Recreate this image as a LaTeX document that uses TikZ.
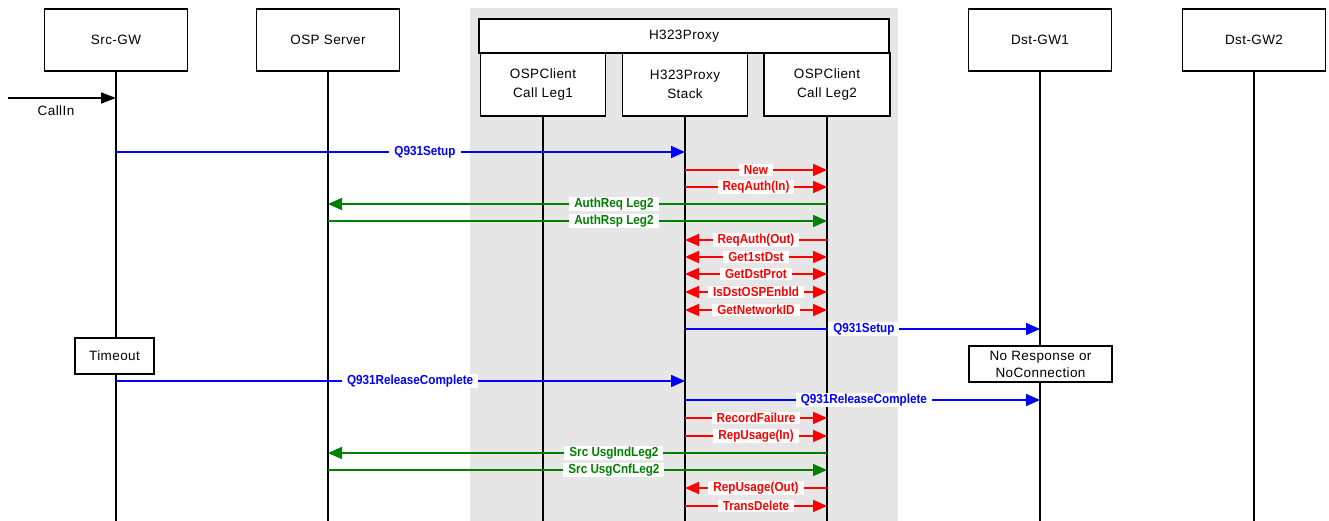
\documentclass[tikz,border=0pt]{standalone}
\usepackage{fontspec}
\setmainfont{Liberation Sans}
\newfontfamily\boxfont[LetterSpace=3]{Liberation Sans}
\usetikzlibrary{arrows.meta}
\definecolor{msgblue}{RGB}{0,0,255}
\definecolor{msgred}{RGB}{255,0,0}
\definecolor{msggreen}{RGB}{0,128,0}
\definecolor{proxybg}{RGB}{230,230,230}
\tikzset{
  entity/.style={draw=black, line width=1.1pt, fill=white, inner sep=0pt, align=center,
    font=\boxfont\fontsize{13.5}{19}\selectfont},
  lifeline/.style={draw=black, line width=1.3pt},
  tip/.style={-{Triangle[length=14pt,width=12pt]}},
  dtip/.style={{Triangle[length=14pt,width=12pt]}-{Triangle[length=14pt,width=12pt]}},
  blue msg/.style={draw=msgblue, line width=1.7pt, text=msgblue},
  red msg/.style={draw=msgred, line width=1.7pt, text=msgred},
  green msg/.style={draw=msggreen, line width=1.7pt, text=msggreen},
  lbl/.style={fill=white, inner xsep=5pt, inner ysep=1pt,
    font=\bfseries\fontsize{11.7}{12}\selectfont}
}
% #1 style, #2 from lifeline, #3 to lifeline, #4 y, #5 text, #6 label position
\newcommand\seqmsg[6]{%
  \draw[#1] (#2 |- 0,#4) -- node[lbl,pos=#6]{\scalebox{1}[1.12]{#5}} (#3 |- 0,#4);}
\begin{document}
\begin{tikzpicture}[x=1pt,y=-1pt]
\useasboundingbox (0,0) rectangle (1329,521);
% proxy background
\fill[proxybg] (470,8) rectangle (898,521);

% participants
\node[entity, minimum width=143pt, minimum height=62pt] (src)  at (116,40) {Src-GW};
\node[entity, minimum width=143pt, minimum height=62pt] (osp)  at (328,40) {OSP Server};
\node[entity, minimum width=410pt, minimum height=34pt] (proxy) at (684,36) {H323Proxy};
\node[entity, minimum width=125pt, minimum height=63pt] (leg1)  at (543,84.5) {OSPClient\\Call Leg1};
\node[entity, minimum width=125pt, minimum height=63pt] (stack) at (685,84.5) {H323Proxy\\Stack};
\node[entity, minimum width=126pt, minimum height=63pt] (leg2)  at (827,84.5) {OSPClient\\Call Leg2};
\node[entity, minimum width=143pt, minimum height=62pt] (dst1) at (1040,40) {Dst-GW1};
\node[entity, minimum width=143pt, minimum height=62pt] (dst2) at (1254,40) {Dst-GW2};

% lifelines
\foreach \p in {src,osp,leg1,stack,leg2,dst1,dst2}
  \draw[lifeline] (\p.south) -- (\p.south |- 0,521);

% incoming call
\coordinate (callsrc) at (8,98);
\draw[line width=1.5pt, -{Triangle[length=15pt,width=11pt]}] (callsrc) -- (src.south |- callsrc);
\node[font=\boxfont\fontsize{13.5}{16}\selectfont] (callin) at (56,111) {CallIn};

% messages
\seqmsg{blue msg,tip}{src}{stack}{152}{Q931Setup}{0.543}
\seqmsg{red msg,tip}{stack}{leg2}{170}{New}{0.5}
\seqmsg{red msg,tip}{stack}{leg2}{187}{ReqAuth(In)}{0.5}
\seqmsg{green msg,tip}{leg2}{osp}{204}{AuthReq Leg2}{0.427}
\seqmsg{green msg,tip}{osp}{leg2}{221}{AuthRsp Leg2}{0.573}
\seqmsg{red msg,tip}{leg2}{stack}{240}{ReqAuth(Out)}{0.5}
\seqmsg{red msg,dtip}{stack}{leg2}{257}{Get1stDst}{0.5}
\seqmsg{red msg,dtip}{stack}{leg2}{274}{GetDstProt}{0.5}
\seqmsg{red msg,dtip}{stack}{leg2}{292}{IsDstOSPEnbld}{0.5}
\seqmsg{red msg,dtip}{stack}{leg2}{310}{GetNetworkID}{0.5}
\seqmsg{blue msg,tip}{stack}{dst1}{329}{Q931Setup}{0.504}
\seqmsg{blue msg,tip}{src}{stack}{381}{Q931ReleaseComplete}{0.517}
\seqmsg{blue msg,tip}{stack}{dst1}{400}{Q931ReleaseComplete}{0.504}
\seqmsg{red msg,tip}{stack}{leg2}{418}{RecordFailure}{0.5}
\seqmsg{red msg,tip}{stack}{leg2}{436}{RepUsage(In)}{0.5}
\seqmsg{green msg,tip}{leg2}{osp}{453}{Src UsgIndLeg2}{0.427}
\seqmsg{green msg,tip}{osp}{leg2}{470}{Src UsgCnfLeg2}{0.573}
\seqmsg{red msg,tip}{leg2}{stack}{488}{RepUsage(Out)}{0.5}
\seqmsg{red msg,tip}{stack}{leg2}{506}{TransDelete}{0.5}

% notes on lifelines
\node[entity, minimum width=79pt, minimum height=36pt] (timeout) at (114.5,356) {Timeout};
\node[entity, minimum width=143pt, minimum height=36pt, font=\boxfont\fontsize{13.5}{17}\selectfont]
  (noresp) at (1040.5,364) {No Response or\\NoConnection};
\end{tikzpicture}
\end{document}
